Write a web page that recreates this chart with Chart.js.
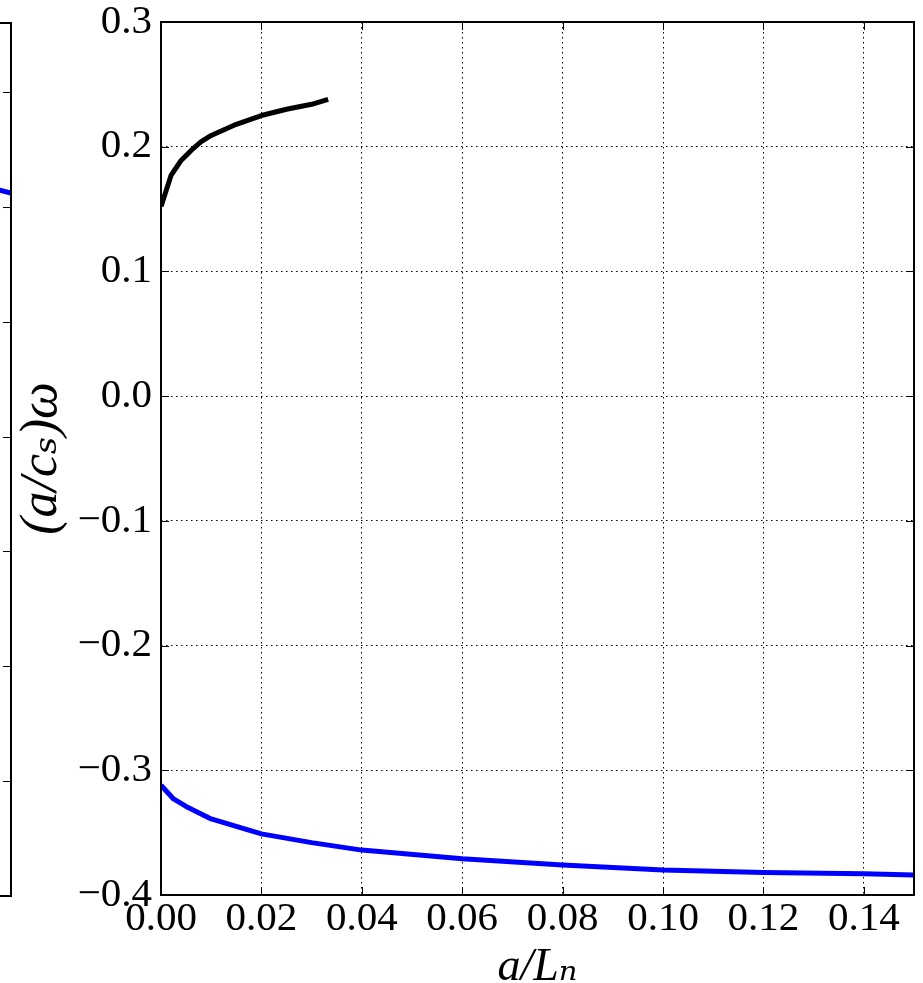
<!DOCTYPE html>
<html>
<head>
<meta charset="utf-8">
<script src="https://cdn.jsdelivr.net/npm/chart.js@4.4.1/dist/chart.umd.min.js"></script>
<style>
  html, body { margin: 0; padding: 0; background: #fff; overflow: hidden; }
  #wrap { position: relative; width: 923px; height: 983px; }
  #leftChart { position: absolute; left: -300px; top: 0; }
  #mainChart { position: absolute; left: 0; top: 0; }
</style>
</head>
<body>
<div id="wrap">
  <canvas id="leftChart" width="312" height="983"></canvas>
  <canvas id="mainChart" width="923" height="983"></canvas>
</div>
<script>
// upper branch (black)
const blackX = [0, 0.002, 0.004, 0.006, 0.008, 0.01, 0.015, 0.02, 0.025, 0.03, 0.0333];
const blackY = [0.152, 0.177, 0.189, 0.197, 0.204, 0.209, 0.218, 0.225, 0.230, 0.234, 0.238];

// lower branch (blue)
const blueX = [0, 0.0025, 0.005, 0.0075, 0.01, 0.015, 0.02, 0.03, 0.04, 0.06, 0.08, 0.10, 0.12, 0.14, 0.15];
const blueY = [-0.312, -0.323, -0.329, -0.334, -0.339, -0.345, -0.351, -0.358, -0.364, -0.371, -0.376, -0.380, -0.382, -0.383, -0.384];

// neighbouring panel, only its right edge is visible
const leftX = [0.9, 1.0];
const leftY = [6.19, 6.12];

const FONT = "'Liberation Serif', 'DejaVu Serif', serif";
const pts = (xs, ys) => xs.map((x, i) => ({ x: x, y: ys[i] }));
const fmtY = v => (v < -1e-9 ? '\u2212' : '') + Math.abs(v).toFixed(1);

// matplotlib-like frame: spines plus inward ticks
const framePlugin = {
  id: 'frame',
  afterDraw(chart, args, opts) {
    const { ctx, chartArea: a, scales } = chart;
    const len = 8;
    ctx.save();
    ctx.strokeStyle = '#000';
    ctx.lineWidth = 1;
    const seg = (x1, y1, x2, y2) => { ctx.beginPath(); ctx.moveTo(x1, y1); ctx.lineTo(x2, y2); ctx.stroke(); };
    if (opts.xTicks) {
      scales.x.ticks.forEach(t => {
        const px = Math.round(scales.x.getPixelForValue(t.value)) + 0.5;
        seg(px, a.bottom, px, a.bottom - len);
        seg(px, a.top, px, a.top + len);
      });
    }
    if (opts.yTicks) {
      scales.y.ticks.forEach(t => {
        const py = Math.round(scales.y.getPixelForValue(t.value)) + 0.5;
        seg(a.left, py, a.left + len, py);
        seg(a.right, py, a.right - len, py);
      });
    }
    ctx.lineWidth = 2;
    ctx.strokeRect(a.left, a.top, a.right - a.left, a.bottom - a.top);
    ctx.restore();
  }
};

new Chart(document.getElementById('leftChart').getContext('2d'), {
  type: 'line',
  data: {
    datasets: [{
      data: pts(leftX, leftY),
      borderColor: '#0000ff',
      borderWidth: 5,
      pointRadius: 0,
    }],
  },
  options: {
    responsive: false,
    animation: false,
    layout: { padding: { top: 23, right: 1, bottom: 87, left: 0 } },
    plugins: { legend: { display: false }, tooltip: { enabled: false }, frame: { xTicks: false, yTicks: true } },
    scales: {
      x: { type: 'linear', min: 0, max: 1, display: false },
      y: {
        min: 0, max: 7.6,
        ticks: { display: false, stepSize: 1 },
        grid: { display: false, drawTicks: false },
        border: { display: false },
      },
    },
  },
  plugins: [framePlugin],
});

new Chart(document.getElementById('mainChart').getContext('2d'), {
  type: 'line',
  data: {
    datasets: [
      {
        label: 'upper',
        data: pts(blackX, blackY),
        borderColor: '#000000',
        borderWidth: 5,
        pointRadius: 0,
        borderJoinStyle: 'round',
      },
      {
        label: 'lower',
        data: pts(blueX, blueY),
        borderColor: '#0000ff',
        borderWidth: 5,
        pointRadius: 0,
        borderJoinStyle: 'round',
      },
    ],
  },
  options: {
    responsive: false,
    animation: false,
    layout: { padding: { top: 22, right: 9, bottom: 0, left: 0 } },
    plugins: { legend: { display: false }, tooltip: { enabled: false }, frame: { xTicks: true, yTicks: true } },
    scales: {
      x: {
        type: 'linear', min: 0, max: 0.15,
        afterFit: s => { s.height = 88; s.paddingLeft = 0; s.paddingRight = 0; },
        ticks: {
          stepSize: 0.02, includeBounds: false, autoSkip: false, maxRotation: 0,
          padding: 4, color: '#000',
          font: { family: FONT, size: 41, lineHeight: 1 },
          callback: v => v.toFixed(2),
        },
        grid: { color: '#000', lineWidth: 1, drawTicks: false },
        border: { display: false, dash: [1.5, 3.5] },
        title: {
          display: true, text: 'a/L\u2099', color: '#000',
          font: { family: FONT, size: 46, style: 'italic', lineHeight: 0.64 },
          padding: { top: 0, bottom: 0 },
        },
      },
      y: {
        min: -0.4, max: 0.3,
        afterFit: s => { s.width = 161; s.paddingTop = 0; s.paddingBottom = 0; },
        ticks: {
          stepSize: 0.1, padding: 9, color: '#000',
          font: { family: FONT, size: 41, lineHeight: 1 },
          callback: fmtY,
        },
        grid: { color: '#000', lineWidth: 1, drawTicks: false },
        border: { display: false, dash: [1.5, 3.5] },
        title: {
          display: true, text: '(a/c\u209B)\u03C9', color: '#000',
          font: { family: FONT, size: 52, style: 'italic', lineHeight: 1 },
          padding: { top: 16, bottom: 0 },
        },
      },
    },
  },
  plugins: [framePlugin],
});
</script>
</body>
</html>
